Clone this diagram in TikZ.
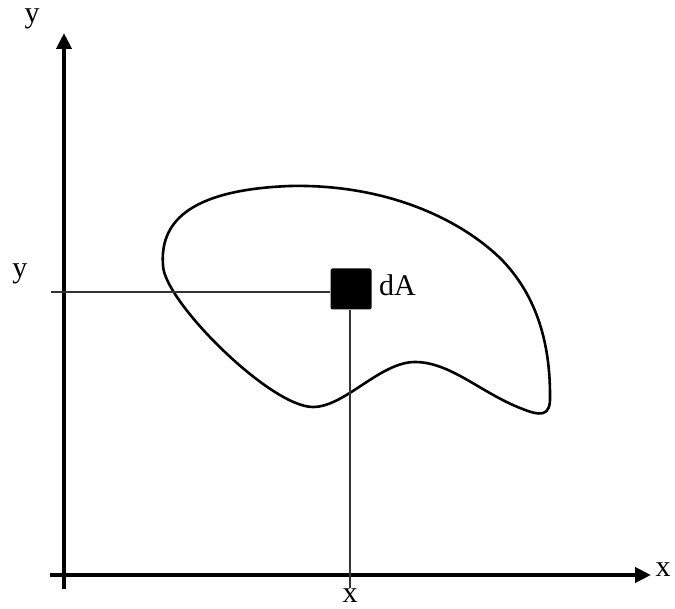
\documentclass[tikz,border=0pt]{standalone}
\usepackage{fontspec}
\setmainfont{Liberation Serif}
\usetikzlibrary{arrows.meta}
\begin{document}
\begin{tikzpicture}[x=1pt,y=-1pt,
  axis/.style={line width=4pt,-{Triangle[length=16pt,width=15pt]}},
  guide/.style={line width=1.1pt,draw=black!80},
  lbl/.style={font=\fontsize{30}{34}\selectfont,inner sep=0pt},
  blob/.style={line width=2.6pt}]
\useasboundingbox (0,0) rectangle (675,609);
\coordinate (ystart) at (64,589);
\coordinate (xstart) at (50,575);
\coordinate (ytip) at (64,33);
\coordinate (xtip) at (651,575);
\draw[axis] (ystart) -- (ytip);
\draw[axis] (xstart) -- (xtip);
\node[lbl] (ylab) at (32,19) {y};
\node[lbl] (xlab) at (663,570) {x};
\draw[blob] (163,265) .. controls (160,225) and (185,190) .. (290,186)
  .. controls (380,184) and (455,215) .. (500,258)
  .. controls (535,293) and (550,340) .. (550,395)
  .. controls (551,418) and (540,416) .. (520,408)
  .. controls (480,392) and (450,362) .. (415,362)
  .. controls (380,362) and (345,407) .. (313,407)
  .. controls (270,407) and (163,300) .. cycle;
\node[fill=black,minimum size=41pt,inner sep=0pt,rounded corners=2pt] (dA) at (351,289) {};
\coordinate (yleft) at (51,292);
\coordinate (xbot) at (350,588);
\draw[guide] (yleft) -- (dA.west |- 0,292);
\draw[guide] (dA.south -| 350,0) -- (xbot);
\node[lbl,anchor=west] (dAlab) at (379,285) {dA};
\node[lbl] (ymid) at (20,274) {y};
\node[lbl] (xmid) at (350,596) {x};
\end{tikzpicture}
\end{document}
